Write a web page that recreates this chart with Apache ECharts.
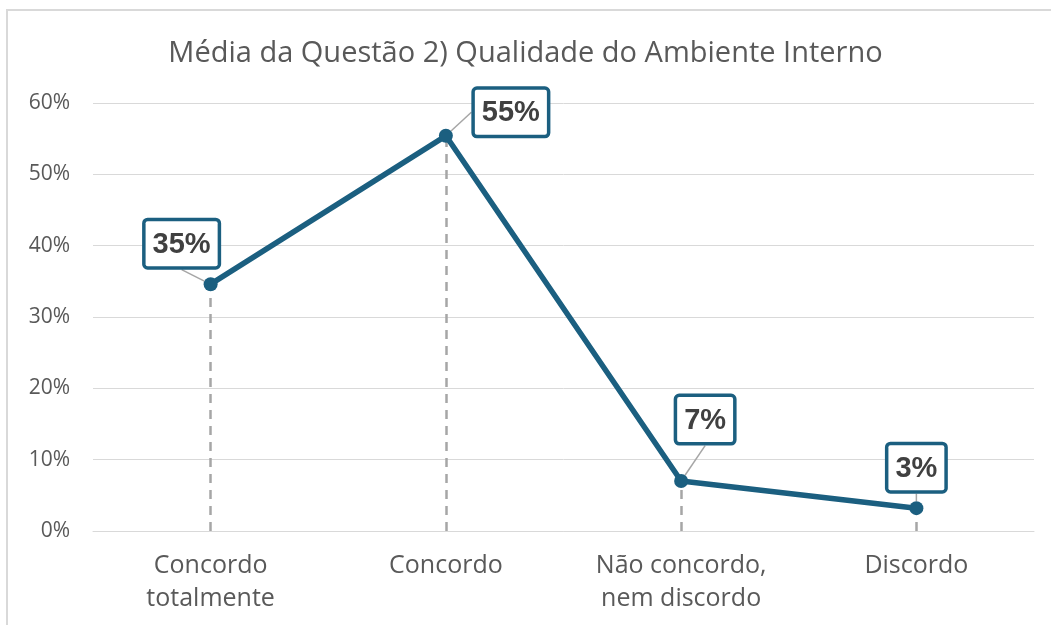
<!DOCTYPE html>
<html>
<head>
<meta charset="utf-8">
<script src="https://cdn.jsdelivr.net/npm/echarts@6/dist/echarts.min.js"></script>
<style>
  html, body { margin: 0; padding: 0; background: #fff; }
  #chart { width: 1051px; height: 625px; }
</style>
</head>
<body>
<div id="chart"></div>
<script>
// chart data
const categories = ['Concordo\ntotalmente', 'Concordo', 'Não concordo,\nnem discordo', 'Discordo'];
const values = [0.346, 0.554, 0.070, 0.032];
const yTicks = [0, 0.1, 0.2, 0.3, 0.4, 0.5, 0.6];

// label box nudges from the default 'top' spot (layout only)
const labelShift = [[-29, -6], [65, 11], [24, -27], [0, -6]];

const lineColor = '#1b5f80';
const textColor = '#595959';
const fontFamily = '"Open Sans", Lato, sans-serif';

const chart = echarts.init(document.getElementById('chart'), null, { renderer: 'canvas' });

chart.setOption({
  animation: false,
  title: {
    text: 'Média da Questão 2) Qualidade do Ambiente Interno',
    left: 'center',
    top: 34,
    textStyle: { color: textColor, fontSize: 29, fontWeight: 'normal', fontFamily }
  },
  graphic: [{
    type: 'rect',
    shape: { x: 7, y: 10, width: 1200, height: 800 },
    style: { fill: 'none', stroke: '#d9d9d9', lineWidth: 2 }
  }],
  grid: { left: 93, right: 17, top: 103, bottom: 94 },
  xAxis: {
    type: 'category',
    data: categories,
    axisLine: { show: true, lineStyle: { color: '#d9d9d9', width: 1 } },
    axisTick: { show: false },
    axisLabel: {
      color: textColor, fontSize: 25, fontFamily, lineHeight: 33, margin: 18
    }
  },
  yAxis: {
    type: 'value',
    min: yTicks[0],
    max: yTicks[yTicks.length - 1],
    interval: 0.1,
    axisLine: { show: false },
    axisTick: { show: false },
    splitLine: { lineStyle: { color: '#d9d9d9', width: 1 } },
    axisLabel: {
      color: textColor, fontSize: 21, fontFamily, margin: 23,
      formatter: v => Math.round(v * 100) + '%'
    }
  },
  series: [{
    type: 'line',
    data: values,
    symbol: 'circle',
    symbolSize: 14,
    z: 3,
    lineStyle: { color: lineColor, width: 5.5 },
    itemStyle: { color: lineColor },
    label: {
      show: true,
      position: 'top',
      formatter: p => Math.round(p.value * 100) + '%',
      fontSize: 29,
      fontWeight: 'bold',
      fontFamily: '"Liberation Sans", Arial, sans-serif',
      color: '#404040',
      backgroundColor: '#fff',
      borderColor: lineColor,
      borderWidth: 3.5,
      borderRadius: 2,
      padding: [9, 7, 7, 7]
    },
    labelLine: { show: true, lineStyle: { color: '#a6a6a6', width: 1.5 } },
    labelLayout: p => ({
      dx: labelShift[p.dataIndex][0],
      dy: labelShift[p.dataIndex][1]
    }),
    markLine: {
      silent: true,
      symbol: 'none',
      label: { show: false },
      z: 2,
      lineStyle: { color: '#a6a6a6', type: [9, 7], width: 2.5 },
      data: values.map((v, i) => [{ coord: [i, 0] }, { coord: [i, v] }])
    }
  }]
});
</script>
</body>
</html>
